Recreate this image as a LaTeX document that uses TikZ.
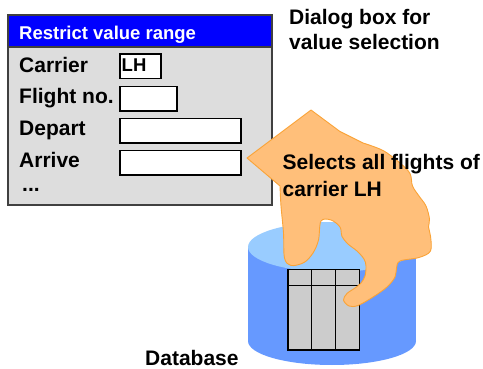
\documentclass[tikz,border=0pt]{standalone}
\usepackage{fontspec}
\setmainfont{Liberation Sans}
\usepackage{xcolor}
\usepackage{tikz}

\definecolor{dlgblue}{RGB}{0,0,255}
\definecolor{dlggray}{RGB}{221,221,221}
\definecolor{dlgborder}{RGB}{64,64,64}
\definecolor{dbtop}{RGB}{153,204,255}
\definecolor{dbbody}{RGB}{102,153,255}
\definecolor{tabgray}{RGB}{204,204,204}
\definecolor{maofill}{RGB}{255,191,122}
\definecolor{maoline}{RGB}{250,163,55}

\begin{document}
\begin{tikzpicture}[x=1pt, y=-1pt,
    txt/.style={anchor=base west, inner sep=0pt, font=\bfseries\fontsize{21}{25}\selectfont},
    txtpq/.style={txt, font=\bfseries\fontsize{18.5}{22}\selectfont},
    campo/.style={draw=black, fill=white, line width=1.1pt}]
  \useasboundingbox (0,0) rectangle (483,369);
  % Caixa de dialogo
  \filldraw[fill=dlggray, draw=dlgborder, line width=1.3pt] (8,15) rectangle (272,205);
  \filldraw[fill=dlgblue, draw=dlgborder, line width=1.3pt] (8,15) rectangle (272,47);
  \node[txtpq, white] (titulo) at (19,39.5) {Restrict value range};
  \foreach \y/\r in {54/161, 86.5/177, 118.5/241, 150.5/241}
    \draw[campo] (120,\y) rectangle (\r,\y+24.5);
  \foreach \t/\y [count=\i] in {Carrier/72.5, Flight no./104, Depart/136, Arrive/167.5}
    \node[txt] (rot\i) at (19,\y) {\t};
  \node[txt] (rot5) at (22,192) {...};
  \node[txtpq] (lh) at (121.5,72) {LH};
  % Banco de dados
  \fill[dbbody] (332,341) ellipse (84 and 24);
  \fill[dbbody] (248,247) rectangle (416,341);
  \fill[dbtop] (332,247) ellipse (84 and 25);
  % Tabela
  \filldraw[fill=tabgray, draw=black, line width=1.3pt] (288,269.5) rectangle (359.5,350);
  \foreach \x in {311.7,335.7}
    \draw[line width=1.3pt] (\x,269.5) -- (\x,350);
  \draw[line width=1.3pt] (288,285.5) -- (359.5,285.5);
  % Mao
  \filldraw[fill=maofill, draw=maoline, line width=0.9pt, line join=round]
    (247,158) -- (311,110) -- (340,131.5) -- plot[smooth, tension=0.55] coordinates {
      (363,143) (383,150.5) (400,163) (410,173.5) (412.5,186) (419,196)
      (426,206) (429.5,219) (428.5,227) (430.5,236) (430.5,251) (419,257.5)
      (400,261) (396.5,268) (395,277) (387,287) (373,297) (358,305.5)
      (349,306) (343.5,300) (347,293.5) (355,288) (361,283) (365,276)
      (366,266) (364,259) (357,251) (348,244) (342,236.5) (340,227)
      (331,220) (321,221) (318.5,240) (313,253) (304,262.5) (291,265.5)
      (284.5,258) (283.5,233) (281,206) (280,186)} -- cycle;
  % Textos
  \node[txt] (dialogo1) at (289,25) {Dialog box for};
  \node[txt] (dialogo2) at (289,50) {value selection};
  \node[txt] (selec1) at (282.5,170) {Selects all flights of};
  \node[txt] (selec2) at (282.5,196.5) {carrier LH};
  \node[txt] (banco) at (145,365) {Database};
\end{tikzpicture}
\end{document}
